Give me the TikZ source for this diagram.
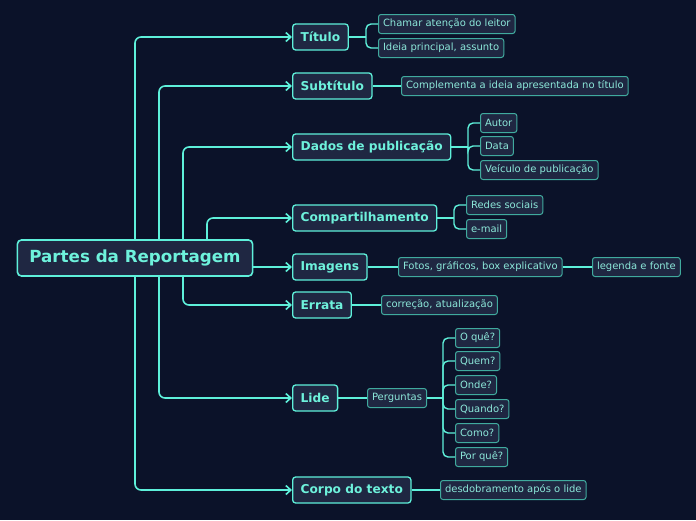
\documentclass[tikz,border=0pt]{standalone}
\usepackage{fontspec}
\setmainfont{DejaVu Sans}
\usetikzlibrary{arrows.meta}
\definecolor{bg}{RGB}{11,18,41}
\definecolor{nodefill}{RGB}{31,39,66}
\definecolor{mainline}{RGB}{94,240,218}
\definecolor{maintext}{RGB}{110,242,220}
\definecolor{subline}{RGB}{64,170,158}
\definecolor{subtext}{RGB}{140,232,218}
\tikzset{
  rootbox/.style={draw=mainline, line width=1.6pt, fill=nodefill, rounded corners=4pt,
    text=maintext, font=\fontsize{16.7}{19}\selectfont\bfseries, inner xsep=12pt, minimum height=36pt},
  lvlbox/.style={draw=mainline, line width=1.3pt, fill=nodefill, rounded corners=3pt,
    text=maintext, font=\fontsize{12.2}{14}\selectfont\bfseries, inner xsep=8pt, minimum height=26pt, anchor=west},
  subbox/.style={draw=subline, line width=1pt, fill=nodefill, rounded corners=2.5pt,
    text=subtext, font=\fontsize{10}{12}\selectfont, inner xsep=4.5pt, minimum height=19pt, anchor=west},
  conn/.style={draw=mainline, line width=1.6pt, rounded corners=6pt,
    -{Straight Barb[length=5pt,width=9pt,line width=1.6pt]}},
  subconn/.style={draw=mainline, line width=1.4pt, rounded corners=5pt},
}
\begin{document}
\begin{tikzpicture}[x=1pt,y=-1pt]
\useasboundingbox[fill=bg] (0,0) rectangle (696,520);
% root
\node[rootbox] (root) at (135,258) {Partes da Reportagem};
% level 1
\node[lvlbox] (titulo) at (292,37) {Título};
\node[lvlbox] (subtitulo) at (292,86) {Subtítulo};
\node[lvlbox] (dados) at (292,147) {Dados de publicação};
\node[lvlbox] (compart) at (292,218) {Compartilhamento};
\node[lvlbox] (imagens) at (292,267) {Imagens};
\node[lvlbox] (errata) at (292,305) {Errata};
\node[lvlbox] (lide) at (292,398) {Lide};
\node[lvlbox] (corpo) at (292,490) {Corpo do texto};
% sub nodes
\node[subbox] (chamar) at (378,24) {Chamar atenção do leitor};
\node[subbox] (ideia) at (378,48) {Ideia principal, assunto};
\node[subbox] (complementa) at (401,86) {Complementa a ideia apresentada no título};
\node[subbox] (autor) at (480,123) {Autor};
\node[subbox] (data) at (480,146) {Data};
\node[subbox] (veiculo) at (480,170) {Veículo de publicação};
\node[subbox] (redes) at (466,205) {Redes sociais};
\node[subbox] (email) at (466,229) {e-mail};
\node[subbox] (fotos) at (398,267) {Fotos, gráficos, box explicativo};
\node[subbox] (legenda) at (592,267) {legenda e fonte};
\node[subbox] (correcao) at (381,305) {correção, atualização};
\node[subbox] (perguntas) at (367,398) {Perguntas};
\node[subbox] (oque) at (455,338) {O quê?};
\node[subbox] (quem) at (455,361) {Quem?};
\node[subbox] (onde) at (455,385) {Onde?};
\node[subbox] (quando) at (455,409) {Quando?};
\node[subbox] (como) at (455,433) {Como?};
\node[subbox] (porque) at (455,457) {Por quê?};
\node[subbox] (desdob) at (440,490) {desdobramento após o lide};
% root connectors
\draw[conn] (root.north) |- (titulo.west);
\draw[conn] ([xshift=24pt]root.north) |- (subtitulo.west);
\draw[conn] ([xshift=48pt]root.north) |- (dados.west);
\draw[conn] ([xshift=72pt]root.north) |- (compart.west);
\draw[conn] (root.east |- imagens.west) -- (imagens.west);
\draw[conn] ([xshift=48pt]root.south) |- (errata.west);
\draw[conn] ([xshift=24pt]root.south) |- (lide.west);
\draw[conn] (root.south) |- (corpo.west);
% brackets
\coordinate (bt) at (366,37);
\draw[subconn] (titulo.east) -- (bt);
\draw[subconn] (bt) |- (chamar.west);
\draw[subconn] (bt) |- (ideia.west);
\coordinate (bd) at (468,147);
\draw[subconn] (dados.east) -- (bd);
\draw[subconn] (bd) |- (autor.west);
\draw[subconn] (bd) |- (data.west);
\draw[subconn] (bd) |- (veiculo.west);
\coordinate (bc) at (454,218);
\draw[subconn] (compart.east) -- (bc);
\draw[subconn] (bc) |- (redes.west);
\draw[subconn] (bc) |- (email.west);
\coordinate (bp) at (443,398);
\draw[subconn] (perguntas.east) -- (bp);
\foreach \n in {oque,quem,onde,quando,como,porque}
  \draw[subconn] (bp) |- (\n.west);
% single links
\draw[subconn] (subtitulo.east) -- (complementa.west);
\draw[subconn] (imagens.east) -- (fotos.west);
\draw[subconn] (fotos.east) -- (legenda.west);
\draw[subconn] (errata.east) -- (correcao.west);
\draw[subconn] (lide.east) -- (perguntas.west);
\draw[subconn] (corpo.east) -- (desdob.west);
\end{tikzpicture}
\end{document}
